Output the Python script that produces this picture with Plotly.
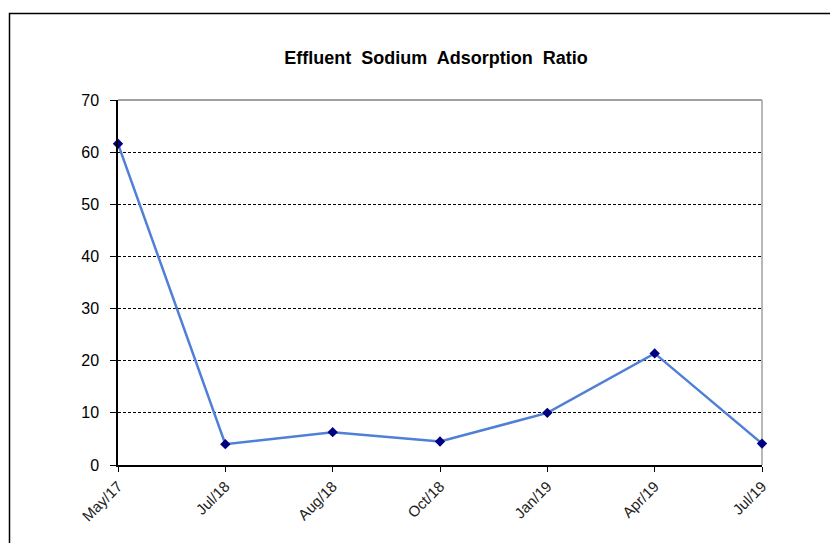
import plotly.graph_objects as go

categories = ["May/17", "Jul/18", "Aug/18", "Oct/18", "Jan/19", "Apr/19", "Jul/19"]
sar_values = [61.6, 4.0, 6.3, 4.5, 10.0, 21.4, 4.1]
y_ticks = [0, 10, 20, 30, 40, 50, 60, 70]

W, H = 830, 543
L, R, T, B = 118, 762, 100, 465
pw, ph = R - L, B - T

def px_x(x):
    return (x - L) / pw

def px_y(y):
    return (B - y) / ph

fig = go.Figure()
fig.add_trace(go.Scatter(
    x=categories, y=sar_values, mode="lines+markers",
    line=dict(color="#4F7FD6", width=2.5),
    marker=dict(symbol="diamond", size=8, color="#000080"),
    showlegend=False, cliponaxis=False,
))

font = "Liberation Sans, Arial, sans-serif"
fig.update_layout(
    width=W, height=H,
    margin=dict(l=L, r=W - R, t=T, b=H - B),
    paper_bgcolor="white", plot_bgcolor="white",
    title=dict(text="<b>Effluent  Sodium  Adsorption  Ratio</b>", x=436 / W, xanchor="center",
               y=1 - 58 / H, yanchor="middle",
               font=dict(family="Liberation Sans Narrow, Arial Narrow, sans-serif", size=18, color="black")),
    xaxis=dict(type="category", range=[0, len(categories) - 1], showgrid=False,
               showline=True, linecolor="black", linewidth=1.5,
               ticks="outside", ticklen=5, tickcolor="black", tickwidth=1,
               tickangle=-45, tickfont=dict(family=font, size=15, color="#222222"),
               zeroline=False),
    yaxis=dict(range=[0, 70], tickvals=y_ticks, showgrid=True, gridcolor="black",
               gridwidth=1, griddash="3px,2px",
               showline=True, linecolor="black", linewidth=1.5,
               ticks="outside", ticklen=6, tickcolor="black", tickwidth=1,
               ticklabelstandoff=8,
               tickfont=dict(family=font, size=16, color="black"),
               zeroline=False),
    shapes=[
        dict(type="line", xref="paper", yref="paper", x0=0, x1=1, y0=1, y1=1,
             line=dict(color="#A0A0A0", width=2), layer="above"),
        dict(type="line", xref="paper", yref="paper", x0=1, x1=1, y0=0, y1=1,
             line=dict(color="#A0A0A0", width=1.5), layer="below"),
        dict(type="rect", xref="paper", yref="paper",
             x0=px_x(9.5), x1=px_x(840), y0=px_y(13.5), y1=px_y(560),
             line=dict(color="black", width=1.5), fillcolor="rgba(0,0,0,0)", layer="above"),
    ],
)

fig.write_html("out.html")
